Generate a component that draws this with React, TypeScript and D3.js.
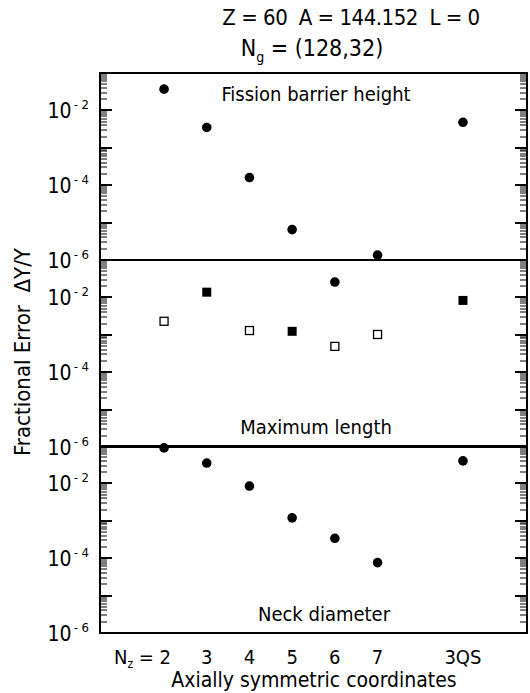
import React from "react";
import * as d3 from "d3";

// categories along the x axis
const xLabels = ["2", "3", "4", "5", "6", "7", "3QS"];
const xPositions = [2, 3, 4, 5, 6, 7, 9];

// Fission barrier height (filled circles)
const barrierX = [2, 3, 4, 5, 7, 9];
const barrierY = [0.037, 0.0035, 1.6e-4, 6.5e-6, 1.35e-6, 4.8e-3];

// Maximum length
const lengthCircleX = [6];
const lengthCircleY = [0.0257];
const lengthFilledSqX = [3, 5, 9];
const lengthFilledSqY = [0.0138, 1.24e-3, 8.3e-3];
const lengthOpenSqX = [2, 4, 6, 7];
const lengthOpenSqY = [2.3e-3, 1.3e-3, 4.9e-4, 1.02e-3];

// Neck diameter (filled circles)
const neckX = [2, 3, 4, 5, 6, 7, 9];
const neckY = [0.089, 0.035, 8.5e-3, 1.2e-3, 3.4e-4, 7.6e-5, 0.04];

const decadeLabels = [-2, -4, -6];

const W = 530;
const H = 693;
const left = 100;
const right = 527;
const panelTops = [73, 260, 446];
const panelH = 187;
const font = "'Liberation Sans Narrow', 'DejaVu Sans Condensed', 'Liberation Sans', sans-serif";

const x = d3.scaleLinear().domain([0.5, 10.5]).range([left, right]);

const yScales = panelTops.map((top) =>
  d3.scaleLog().domain([1e-6, 1e-1]).range([top + panelH, top])
);

// every tick value 1..9 x 10^e inside the domain
const tickVals: { v: number; major: boolean }[] = [];
for (let e = -6; e <= -1; e++) {
  for (let k = 1; k <= 9; k++) {
    const v = k * Math.pow(10, e);
    if (v < 0.10001) tickVals.push({ v, major: k === 1 });
  }
}

const Circles = ({ xs, ys, y }: any) => (
  <g>{xs.map((v: number, i: number) => <circle key={i} cx={x(v)} cy={y(ys[i])} r={4.8} fill="#000" />)}</g>
);
const Squares = ({ xs, ys, y, filled }: any) => (
  <g>
    {xs.map((v: number, i: number) => {
      const s = filled ? 9 : 8;
      return (
        <rect key={i} x={x(v) - s / 2} y={y(ys[i]) - s / 2} width={s} height={s}
          fill={filled ? "#000" : "#fff"} stroke="#000" strokeWidth={filled ? 0 : 1.3} />
      );
    })}
  </g>
);

const panelLabels = [
  { text: "Fission barrier height", x: 316, y: 101 },
  { text: "Maximum length", x: 316, y: 434 },
  { text: "Neck diameter", x: 324, y: 621 },
];

export default function App() {
  return (
    <div style={{ position: "absolute", left: 0, top: 0, background: "#fff" }}>
      <svg width={W} height={H} viewBox={`0 0 ${W} ${H}`}>
        <rect width={W} height={H} fill="#fff" />
        <text x={351} y={25} textAnchor="middle" fontFamily={font} fontSize={22} letterSpacing={-0.5} style={{ whiteSpace: "pre" }}>
          {"Z = 60  A = 144.152  L = 0"}
        </text>
        <text x={312} y={56} textAnchor="middle" fontFamily={font} fontSize={23}>
          N<tspan dy={6} fontSize={14}>g</tspan><tspan dy={-6}> = (128,32)</tspan>
        </text>

        {/* log ticks on both sides of every panel, as small filled bars */}
        {yScales.map((y, pi) =>
          tickVals.map((t, ti) => {
            const len = t.major ? 12 : 7;
            const th = t.major ? 2 : 1;
            const yy = Math.round(y(t.v));
            return (
              <g key={pi + "-" + ti}>
                <rect x={left} y={yy - th / 2} width={len} height={th} fill="#000" />
                <rect x={right - len} y={yy - th / 2} width={len} height={th} fill="#000" />
              </g>
            );
          })
        )}

        {yScales.map((y, pi) => (
          <g key={pi}>
            <rect x={left} y={panelTops[pi]} width={right - left} height={panelH} fill="none" stroke="#000" strokeWidth={2} />
            {decadeLabels.map((e) => (
              <text key={e} x={89} y={y(Math.pow(10, e)) + 8} textAnchor="end" fontFamily={font} fontSize={21}>
                10
                <tspan dx={2} dy={-9} fontSize={13}>{"- " + Math.abs(e)}</tspan>
              </text>
            ))}
            <text x={panelLabels[pi].x} y={panelLabels[pi].y} textAnchor="middle" fontFamily={font} fontSize={20}>
              {panelLabels[pi].text}
            </text>
          </g>
        ))}

        <Circles xs={barrierX} ys={barrierY} y={yScales[0]} />
        <Squares xs={lengthOpenSqX} ys={lengthOpenSqY} y={yScales[1]} filled={false} />
        <Squares xs={lengthFilledSqX} ys={lengthFilledSqY} y={yScales[1]} filled={true} />
        <Circles xs={lengthCircleX} ys={lengthCircleY} y={yScales[1]} />
        <Circles xs={neckX} ys={neckY} y={yScales[2]} />

        {xLabels.map((l, i) => (
          <text key={l} x={x(xPositions[i])} y={664} textAnchor="middle" fontFamily={font} fontSize={20}>
            {i === 0 ? "" : l}
          </text>
        ))}
        <text x={x(2) + 7} y={664} textAnchor="end" fontFamily={font} fontSize={20}>
          N<tspan dy={4} fontSize={12}>z</tspan><tspan dy={-4}> = 2</tspan>
        </text>
        <text x={314} y={687} textAnchor="middle" fontFamily={font} fontSize={21}>
          Axially symmetric coordinates
        </text>
        <text transform={`translate(30,352) rotate(-90)`} textAnchor="middle" fontFamily={font} fontSize={22} style={{ whiteSpace: "pre" }}>
          {"Fractional Error  ΔY/Y"}
        </text>
      </svg>
    </div>
  );
}
